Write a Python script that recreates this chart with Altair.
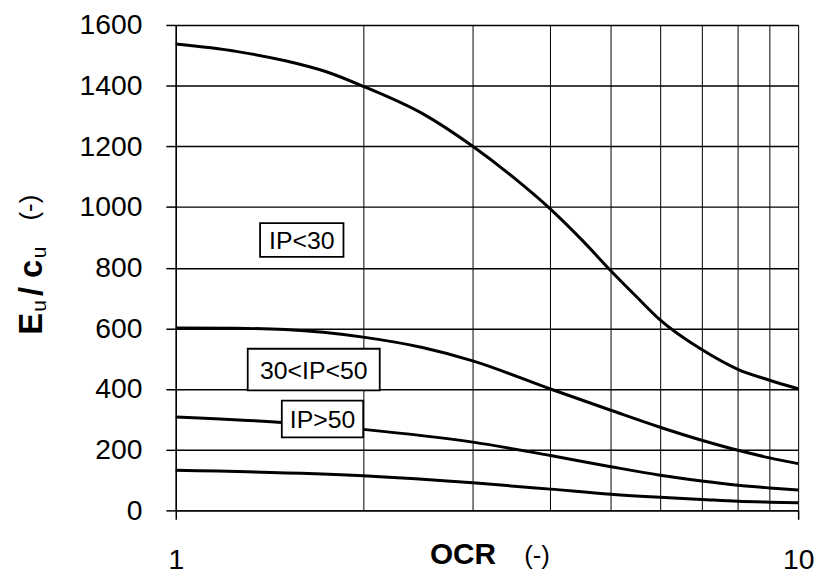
import altair as alt
import pandas as pd

# ---- data ----
ip_lt30_ocr = [1, 1.25, 1.5, 1.75, 2, 2.5, 3, 3.5, 4, 4.5, 5, 5.5, 6, 7, 8, 9, 10]
ip_lt30_val = [1537, 1513, 1482, 1445, 1398, 1306, 1200, 1095, 993, 890, 790, 704, 628, 530, 465, 429, 401]

ip_30_50_ocr = [1, 1.25, 1.5, 2, 2.5, 3, 4, 5, 6, 7, 8, 9, 10]
ip_30_50_val = [601, 600, 596, 571, 536, 493, 400, 330, 274, 231, 198, 173, 154]

ip_gt50_ocr = [1, 1.5, 2, 3, 4, 5, 6, 7, 8, 9, 10]
ip_gt50_val = [308, 289, 267, 225, 181, 144, 116, 97, 83, 74, 67]

low_ocr = [1, 2, 3, 4, 5, 6, 7, 8, 9, 10]
low_val = [132, 114, 91, 70, 53, 43, 36, 30, 27, 25]

labels = ["IP<30", "30<IP<50", "IP>50"]
label_ocr = [1.594, 1.666, 1.721]
label_val = [891, 464, 301]

x_grid = [1, 2, 3, 4, 5, 6, 7, 8, 9, 10]
y_ticks = [0, 200, 400, 600, 800, 1000, 1200, 1400, 1600]

# ---- tables ----
rows = []
for name, xs, ys in [("IP<30", ip_lt30_ocr, ip_lt30_val),
                     ("30<IP<50", ip_30_50_ocr, ip_30_50_val),
                     ("IP>50", ip_gt50_ocr, ip_gt50_val),
                     ("low", low_ocr, low_val)]:
    for a, b in zip(xs, ys):
        rows.append({"series": name, "ocr": a, "eu": b})
curves = pd.DataFrame(rows)
lab = pd.DataFrame({"label": labels, "ocr": label_ocr, "eu": label_val})
one = pd.DataFrame({"k": [0]})

FONT = "Liberation Sans"
box_paths = ["M-42,-17L42,-17L42,17L-42,17Z",
             "M-66.5,-21L66.5,-21L66.5,21L-66.5,21Z",
             "M-41,-18.5L41,-18.5L41,18.5L-41,18.5Z"]

xscale = alt.Scale(type="log", domain=[1, 10], nice=False)
yscale = alt.Scale(domain=[0, 1600], nice=False)

xaxis = alt.Axis(values=x_grid, grid=True, gridColor="black", gridWidth=1, gridOpacity=1,
                 labelExpr="(datum.value == 1 || datum.value == 10) ? format(datum.value, 'd') : ''",
                 labelFont=FONT, labelFontSize=28.5, labelColor="black", labelFlush=False,
                 labelOverlap=False, labelPadding=27, tickSize=9, tickColor="black", tickWidth=1.5,
                 tickOpacity={"condition": {"test": "datum.value == 1 || datum.value == 10", "value": 1}, "value": 0},
                 domainColor="black", domainWidth=1.5, title=None)
yaxis = alt.Axis(values=y_ticks, grid=True, gridColor="black", gridWidth=1.5, gridOpacity=1,
                 format="d",
                 labelFont=FONT, labelFontSize=28.5, labelColor="black", labelPadding=24,
                 labelOverlap=False, tickSize=10, tickColor="black", tickWidth=1.5,
                 domainColor="black", domainWidth=1.5, title=None)

lines = alt.Chart(curves).mark_line(color="black", strokeWidth=3, interpolate="monotone").encode(
    x=alt.X("ocr:Q", scale=xscale, axis=xaxis),
    y=alt.Y("eu:Q", scale=yscale, axis=yaxis),
    detail="series:N",
)

boxes = alt.Chart(lab).mark_point(filled=True, fill="white", stroke="black", strokeWidth=1.8, opacity=1).encode(
    x=alt.X("ocr:Q", scale=xscale),
    y=alt.Y("eu:Q", scale=yscale),
    shape=alt.Shape("label:N", scale=alt.Scale(domain=labels, range=box_paths), legend=None),
    size=alt.value(4),
)

texts = alt.Chart(lab).mark_text(font=FONT, fontSize=25, color="black", align="center", baseline="middle", dy=1).encode(
    x=alt.X("ocr:Q", scale=xscale),
    y=alt.Y("eu:Q", scale=yscale),
    text="label:N",
)


def piece(txt, x, y, size, bold, angle=0):
    kw = dict(text=txt, font=FONT, fontSize=size, color="black", align="left",
              baseline="alphabetic", fontWeight="bold" if bold else "normal")
    if angle:
        kw["angle"] = angle
    return alt.Chart(one).mark_text(**kw).encode(x=alt.value(x), y=alt.value(y))


titles = [
    piece("OCR", 256, 543, 30, True),
    piece("(-)", 351, 543.5, 26, False),
    piece("E", -135, 312, 33, True, 270),
    piece("u", -131, 289, 21, False, 270),
    piece("/", -135, 273, 33, True, 270),
    piece("c", -135, 255, 33, True, 270),
    piece("u", -131, 235, 21, False, 270),
    piece("(-)", -139, 197, 26, False, 270),
]

chart = alt.layer(lines, boxes, texts, *titles).properties(
    width=627, height=489,
    padding={"left": 169, "top": 15, "right": 20, "bottom": 62},
    autosize=alt.AutoSizeParams(type="none"),
).configure_view(stroke=None).configure(background="white")

chart.save("out.html", embed_options={"renderer": "svg", "actions": False})
